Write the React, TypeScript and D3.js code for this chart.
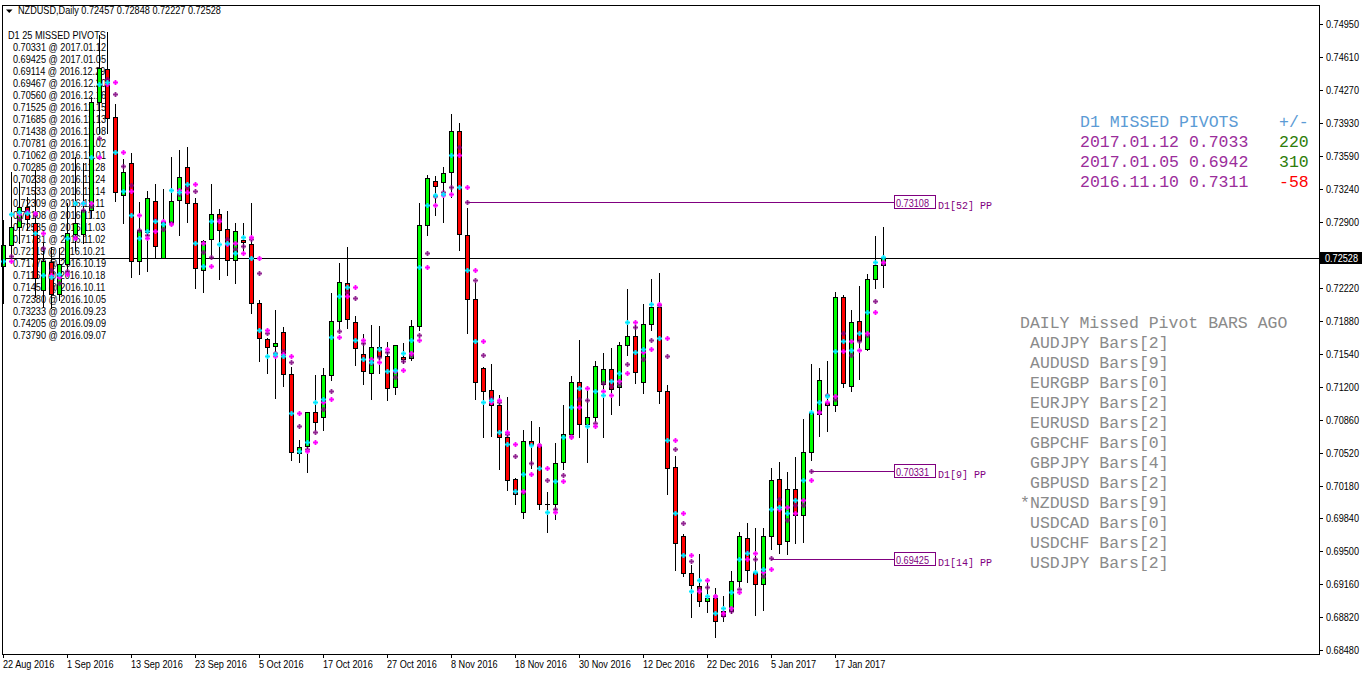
import React from 'react';
import * as d3 from 'd3';

// ---------- DATA ----------
const opens = [
  0.72449, 0.72666, 0.72849, 0.73062, 0.72890, 0.72201, 0.72487, 0.72156, 0.72466, 0.72780,
  0.72780, 0.73028, 0.74147, 0.74481, 0.73985, 0.73183, 0.73510, 0.72501, 0.72804, 0.73124,
  0.72535, 0.72907, 0.73131, 0.73476, 0.73097, 0.72408, 0.72725, 0.72983, 0.72828, 0.72511,
  0.72718, 0.72673, 0.72063, 0.71691, 0.71622, 0.71763, 0.71329, 0.70513, 0.70589, 0.70937,
  0.70885, 0.71323, 0.71881, 0.72270, 0.71867, 0.71539, 0.71340, 0.71608, 0.71519, 0.71195,
  0.71512, 0.71495, 0.71829, 0.72873, 0.73331, 0.73314, 0.73417, 0.73839, 0.72768, 0.72108,
  0.71395, 0.71170, 0.71008, 0.70686, 0.70245, 0.69905, 0.70643, 0.70603, 0.69991, 0.69994,
  0.70428, 0.70715, 0.71252, 0.70818, 0.70883, 0.71231, 0.71385, 0.71195, 0.71632, 0.71725,
  0.71252, 0.71850, 0.72026, 0.71159, 0.70374, 0.69654, 0.69271, 0.69145, 0.68984, 0.69013,
  0.68887, 0.68880, 0.69188, 0.69640, 0.69271, 0.69160, 0.69654, 0.70249, 0.69611, 0.70149,
  0.69880, 0.70525, 0.70919, 0.71037, 0.71016, 0.72126, 0.71205, 0.71879, 0.71596, 0.72312,
  0.72457,
];
const highs = [
  0.72924, 0.73424, 0.73321, 0.73163, 0.73441, 0.72683, 0.72649, 0.72632, 0.73097, 0.73579,
  0.73510, 0.74199, 0.74836, 0.74871, 0.74123, 0.73551, 0.73620, 0.73114, 0.73228, 0.73296,
  0.73245, 0.73579, 0.73648, 0.73682, 0.73148, 0.72718, 0.73296, 0.73038, 0.73017, 0.72897,
  0.72897, 0.73103, 0.72098, 0.71701, 0.71994, 0.71822, 0.71409, 0.70651, 0.70937, 0.71323,
  0.71398, 0.72166, 0.72483, 0.72649, 0.71932, 0.71746, 0.71839, 0.71832, 0.71667, 0.71633,
  0.71657, 0.71891, 0.73097, 0.73389, 0.73383, 0.73476, 0.74020, 0.73925, 0.73051, 0.72273,
  0.71410, 0.71431, 0.71116, 0.71091, 0.70256, 0.70758, 0.70847, 0.70786, 0.70113, 0.70615,
  0.71008, 0.71313, 0.71689, 0.71152, 0.71467, 0.71553, 0.71600, 0.71661, 0.72209, 0.71879,
  0.72055, 0.72316, 0.72377, 0.71223, 0.70489, 0.69680, 0.69360, 0.69475, 0.69217, 0.69117,
  0.69038, 0.69299, 0.69701, 0.69790, 0.69736, 0.69736, 0.70356, 0.70428, 0.70317, 0.70471,
  0.70865, 0.71431, 0.71395, 0.71467, 0.72184, 0.72148, 0.71997, 0.72244, 0.72363, 0.72764,
  0.72848,
];
const lows = [
  0.72070, 0.72545, 0.72683, 0.72821, 0.72132, 0.72029, 0.72012, 0.72098, 0.72373, 0.72615,
  0.72683, 0.72959, 0.73820, 0.73820, 0.73124, 0.72897, 0.72332, 0.72363, 0.72394, 0.72528,
  0.72528, 0.72890, 0.72769, 0.72907, 0.72218, 0.72184, 0.72528, 0.72311, 0.72356, 0.72270,
  0.72597, 0.71967, 0.71471, 0.71340, 0.71081, 0.71209, 0.70444, 0.70427, 0.70323, 0.70754,
  0.70754, 0.71271, 0.71788, 0.71805, 0.71426, 0.71229, 0.71071, 0.71340, 0.71064, 0.71123,
  0.71443, 0.71477, 0.71788, 0.72769, 0.72976, 0.72907, 0.73163, 0.72614, 0.71754, 0.71073,
  0.70686, 0.70693, 0.70346, 0.70131, 0.69994, 0.69844, 0.70356, 0.69933, 0.69701, 0.69833,
  0.70346, 0.70668, 0.70686, 0.70428, 0.70847, 0.70686, 0.70919, 0.71016, 0.71528, 0.71241,
  0.71134, 0.71786, 0.71034, 0.70088, 0.69306, 0.69240, 0.68823, 0.68930, 0.68869, 0.68615,
  0.68780, 0.68859, 0.69138, 0.69181, 0.68841, 0.68894, 0.69521, 0.69478, 0.69475, 0.69583,
  0.69600, 0.70446, 0.70693, 0.70747, 0.70947, 0.71198, 0.71159, 0.71277, 0.71582, 0.72223,
  0.72227,
];
const closes = [
  0.72666, 0.72849, 0.73062, 0.72931, 0.72322, 0.72501, 0.72156, 0.72466, 0.72787, 0.72890,
  0.73028, 0.74147, 0.74492, 0.73975, 0.73210, 0.73424, 0.72501, 0.72821, 0.73148, 0.72656,
  0.72900, 0.73124, 0.73365, 0.73097, 0.72425, 0.72711, 0.72983, 0.72821, 0.72511, 0.72814,
  0.72694, 0.72063, 0.71701, 0.71615, 0.71650, 0.71329, 0.70523, 0.70582, 0.70937, 0.70833,
  0.71319, 0.71881, 0.72280, 0.71898, 0.71598, 0.71364, 0.71608, 0.71519, 0.71185, 0.71633,
  0.71484, 0.71829, 0.72873, 0.73355, 0.73276, 0.73414, 0.73844, 0.72778, 0.72108, 0.71252,
  0.71159, 0.71008, 0.70686, 0.70242, 0.70088, 0.70643, 0.70603, 0.69994, 0.69994, 0.70417,
  0.70715, 0.71252, 0.70818, 0.70883, 0.71420, 0.71385, 0.71180, 0.71632, 0.71725, 0.71356,
  0.71850, 0.72026, 0.71159, 0.70363, 0.69586, 0.69271, 0.69152, 0.68984, 0.69013, 0.68780,
  0.68834, 0.69188, 0.69654, 0.69303, 0.69160, 0.69654, 0.70242, 0.69575, 0.70149, 0.69880,
  0.70525, 0.70933, 0.71274, 0.71016, 0.72126, 0.71241, 0.71868, 0.71682, 0.72312, 0.72456,
  0.72528,
];

const dateTickIndex = [0, 8, 16, 24, 32, 40, 48, 56, 64, 72, 80, 88, 96, 104];
const dateTickLabels = [
  '22 Aug 2016', '1 Sep 2016', '13 Sep 2016', '23 Sep 2016', '5 Oct 2016', '17 Oct 2016',
  '27 Oct 2016', '8 Nov 2016', '18 Nov 2016', '30 Nov 2016', '12 Dec 2016', '22 Dec 2016',
  '5 Jan 2017', '17 Jan 2017',
];
// 0.72560 sits under the current-price box and is hidden there
const priceTickLabels = [
  '0.74950', '0.74610', '0.74270', '0.73930', '0.73590', '0.73240', '0.72900',
  '0.72220', '0.71880', '0.71540', '0.71200', '0.70860', '0.70520', '0.70180', '0.69840',
  '0.69500', '0.69160', '0.68820', '0.68480',
];

const missedListValues = [
  '0.70331', '0.69425', '0.69114', '0.69467', '0.70560', '0.71525', '0.71685', '0.71438',
  '0.70781', '0.71062', '0.70285', '0.70238', '0.71533', '0.72309', '0.73108', '0.72585',
  '0.71731', '0.72119', '0.71778', '0.71161', '0.71458', '0.72380', '0.73233', '0.74205',
  '0.73790',
];
const missedListDates = [
  '2017.01.12', '2017.01.05', '2016.12.29', '2016.12.20', '2016.12.16', '2016.12.15',
  '2016.12.13', '2016.12.08', '2016.12.02', '2016.12.01', '2016.11.28', '2016.11.24',
  '2016.11.14', '2016.11.11', '2016.11.10', '2016.11.03', '2016.11.02', '2016.10.21',
  '2016.10.19', '2016.10.18', '2016.10.11', '2016.10.05', '2016.09.23', '2016.09.09',
  '2016.09.07',
];

const openPivotBarsAgo = [52, 9, 14];
const openPivotPrices = [0.73108, 0.70331, 0.69425];

const panelDates = ['2017.01.12', '2017.01.05', '2016.11.10'];
const panelPrices = ['0.7033', '0.6942', '0.7311'];
const panelDiffs = [220, 310, -58];

const barsAgoSymbols = ['AUDJPY', 'AUDUSD', 'EURGBP', 'EURJPY', 'EURUSD', 'GBPCHF', 'GBPJPY', 'GBPUSD', 'NZDUSD', 'USDCAD', 'USDCHF', 'USDJPY'];
const barsAgoValues = [2, 9, 0, 2, 2, 0, 4, 2, 9, 0, 2, 2];
const currentSymbol = 'NZDUSD';

// ---------- LAYOUT ----------
const W = 1362;
const H = 675;
const LEFT = 2;
const TOP = 5;
const RIGHT = 1319;
const BOTTOM = 654;
const SANS = "'Liberation Sans', Arial, sans-serif";
const MONO = "'Liberation Mono', 'DejaVu Sans Mono', monospace";
const PURPLE = '#800080';
const SX = 0.87;

function ST(props: { x: number; y: number; fill?: string; children: React.ReactNode }) {
  return (
    <text
      transform={`translate(${props.x},${props.y}) scale(${SX},1)`}
      fontFamily={SANS}
      fontSize={10.5}
      fill={props.fill || '#000'}
    >
      {props.children}
    </text>
  );
}

export default function App() {
  const n = closes.length;
  const last = n - 1;
  const x = d3.scaleLinear().domain([0, last]).range([3, 883]);
  const y = d3.scaleLinear().domain([0.6848, 0.7495]).range([650, 24]);
  const px = (i: number) => Math.round(x(i));
  const py = (v: number) => Math.round(y(v));

  const candles = d3.range(n).map((i) => {
    const o = opens[i], c = closes[i], h = highs[i], l = lows[i];
    const xi = px(i);
    const top = py(Math.max(o, c));
    const bot = py(Math.min(o, c));
    const bull = c >= o;
    return (
      <g key={'c' + i}>
        <line x1={xi + 0.5} x2={xi + 0.5} y1={py(h)} y2={py(l) + 1} stroke="#000" strokeWidth={1} />
        {bot - top >= 1 ? (
          <rect x={xi - 1.5} y={top + 0.5} width={4} height={bot - top} fill={bull ? '#00ff00' : '#ff0000'} stroke="#000" strokeWidth={1} />
        ) : (
          <line x1={xi - 2} x2={xi + 3} y1={top + 0.5} y2={top + 0.5} stroke="#000" strokeWidth={1} />
        )}
      </g>
    );
  });

  const plus = (cx: number, cy: number) => `M${cx - 2},${cy + 0.5}H${cx + 3}M${cx + 0.5},${cy - 2}V${cy + 3}`;
  const markers: JSX.Element[] = [];
  for (let i = 1; i < n; i++) {
    const pp = (highs[i - 1] + lows[i - 1] + closes[i - 1]) / 3;
    const md = (highs[i - 1] + lows[i - 1]) / 2;
    markers.push(<path key={'p' + i} d={plus(px(i), py(pp))} stroke={PURPLE} strokeWidth={1.8} opacity={0.85} />);
    markers.push(<path key={'m' + i} d={plus(px(i), py(md))} stroke="#ff00ff" strokeWidth={1.8} />);
  }
  for (let i = 0; i < n; i++) {
    const md = (highs[i] + lows[i]) / 2;
    markers.push(<path key={'q' + i} d={plus(px(i), py(md))} stroke="#00e8ff" strokeWidth={1.8} />);
  }

  const curY = py(closes[last]) + 0.5;

  return (
    <svg width={W} height={H} style={{ position: 'absolute', left: 0, top: 0, background: '#fff' }}>
      <rect x={0} y={0} width={W} height={H} fill="#fff" />

      {/* header */}
      <path d="M6,9.5L12.5,9.5L9.25,13Z" fill="#000" />
      <ST x={18} y={14}>
        {`NZDUSD,Daily  ${opens[last].toFixed(5)} ${highs[last].toFixed(5)} ${lows[last].toFixed(5)} ${closes[last].toFixed(5)}`}
      </ST>

      {/* missed pivots list */}
      <ST x={8} y={39}>D1 25 MISSED PIVOTS</ST>
      {missedListValues.map((v, i) => (
        <ST key={'ml' + i} x={13} y={51 + i * 12}>{`${v} @ ${missedListDates[i]}`}</ST>
      ))}

      {/* current price line */}
      <line x1={LEFT} x2={RIGHT} y1={curY} y2={curY} stroke="#000" strokeWidth={1} />

      {/* open pivot lines */}
      {openPivotPrices.map((p, k) => {
        const bi = last - openPivotBarsAgo[k];
        const yy = py(p) + 0.5;
        return (
          <g key={'op' + k}>
            <line x1={px(bi)} x2={894} y1={yy} y2={yy} stroke={PURPLE} strokeWidth={1} />
            <rect x={894.5} y={yy - 7} width={41} height={13} fill="#fff" stroke={PURPLE} strokeWidth={1} />
            <ST x={896} y={yy + 4.5} fill={PURPLE}>{p.toFixed(5)}</ST>
            <text x={938} y={yy + 6} fontFamily={MONO} fontSize={10} fill={PURPLE}>{`D1[${openPivotBarsAgo[k]}] PP`}</text>
          </g>
        );
      })}

      {candles}
      {markers}

      {/* frame */}
      <line x1={LEFT + 0.5} x2={LEFT + 0.5} y1={TOP} y2={BOTTOM} stroke="#000" />
      <line x1={LEFT} x2={RIGHT + 1} y1={TOP + 0.5} y2={TOP + 0.5} stroke="#000" />
      <line x1={LEFT} x2={RIGHT + 1} y1={BOTTOM + 0.5} y2={BOTTOM + 0.5} stroke="#000" />
      <line x1={RIGHT + 0.5} x2={RIGHT + 0.5} y1={TOP} y2={BOTTOM + 1} stroke="#000" />

      {/* price axis */}
      {priceTickLabels.map((t) => {
        const yy = py(+t) + 0.5;
        return (
          <g key={'pt' + t}>
            <line x1={RIGHT} x2={RIGHT + 4} y1={yy} y2={yy} stroke="#000" />
            <ST x={1326} y={yy + 3.5}>{t}</ST>
          </g>
        );
      })}
      <rect x={1320} y={curY - 6.5} width={42} height={12} fill="#000" />
      <ST x={1325} y={curY + 3.5} fill="#fff">{closes[last].toFixed(5)}</ST>

      {/* time axis */}
      {dateTickIndex.map((idx, k) => (
        <g key={'dt' + k}>
          <line x1={px(idx) + 0.5} x2={px(idx) + 0.5} y1={BOTTOM} y2={BOTTOM + 4} stroke="#000" />
          <ST x={px(idx)} y={668}>{dateTickLabels[k]}</ST>
        </g>
      ))}

      {/* missed pivots panel */}
      <text x={1080} y={127} fontFamily={MONO} fontSize={16.5} fill="#5b9bd5">D1 MISSED PIVOTS</text>
      <text x={1279} y={127} fontFamily={MONO} fontSize={16.5} fill="#5b9bd5">+/-</text>
      {panelDates.map((d, k) => (
        <g key={'pd' + k}>
          <text x={1080} y={147 + k * 20} fontFamily={MONO} fontSize={16.5} fill="#9b2d9b">{`${d} ${panelPrices[k]}`}</text>
          <text x={1279} y={147 + k * 20} fontFamily={MONO} fontSize={16.5} fill={panelDiffs[k] >= 0 ? '#2e7d0a' : '#ff0000'}>{String(panelDiffs[k])}</text>
        </g>
      ))}

      {/* bars ago panel */}
      <text x={1020} y={328} fontFamily={MONO} fontSize={16.5} fill="#8a8a8a">DAILY Missed Pivot BARS AGO</text>
      {barsAgoSymbols.map((s, k) => (
        <text key={'ba' + k} x={s === currentSymbol ? 1020 : 1030} y={348 + k * 20} fontFamily={MONO} fontSize={16.5} fill="#8a8a8a">
          {`${s === currentSymbol ? '*' : ''}${s} Bars[${barsAgoValues[k]}]`}
        </text>
      ))}
    </svg>
  );
}
